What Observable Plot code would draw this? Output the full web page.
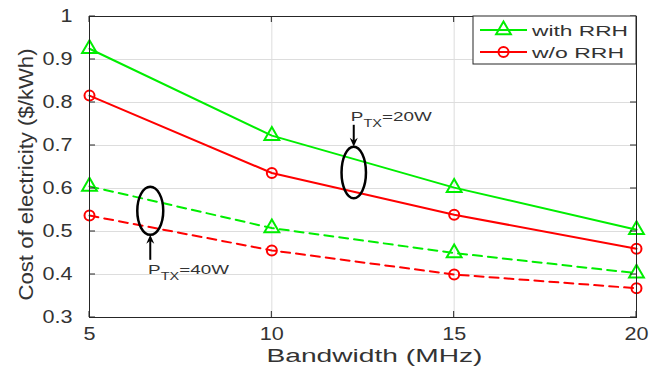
<!DOCTYPE html>
<html><head><meta charset="utf-8">
<script src="https://cdn.jsdelivr.net/npm/d3@7"></script>
<script src="https://cdn.jsdelivr.net/npm/@observablehq/plot@0.6"></script>
<style>
body{margin:0;background:#fff}
#chart{width:651px;height:370px}
</style>
</head><body><div id="chart"></div>
<script>
// ---- data ----
const bandwidth = [5, 10, 15, 20];
const withRRH_20W = [0.925, 0.723, 0.602, 0.504];
const woRRH_20W   = [0.816, 0.636, 0.539, 0.460];
const withRRH_40W = [0.605, 0.508, 0.450, 0.403];
const woRRH_40W   = [0.537, 0.456, 0.400, 0.368];
const xTicks = [5, 10, 15, 20];
const yTicks = [0.3, 0.4, 0.5, 0.6, 0.7, 0.8, 0.9, 1];
const yTickLabels = ["0.3", "0.4", "0.5", "0.6", "0.7", "0.8", "0.9", "1"];
const legendLabels = ["with RRH", "w/o RRH"];
const xLabel = "Bandwidth (MHz)";
const yLabel = "Cost of electricity ($/kWh)";
// annotation anchors in data units
const annoPower = ["20W", "40W"];
const annoEllipseX = [12.26, 6.68];
const annoEllipseY = [0.636, 0.547];
const annoEllipseRx = [0.335, 0.356];
const annoEllipseRy = [0.060, 0.056];
const annoArrowFromY = [0.747, 0.433];
const annoTextX = [12.18, 6.62];
const annoTextY = [0.756, 0.401];

const GREEN = "#00ee00", RED = "#ff0000";
const series = [
  {values: withRRH_20W, color: GREEN, symbol: "triangle", dash: null},
  {values: woRRH_20W, color: RED, symbol: "circle", dash: null},
  {values: withRRH_40W, color: GREEN, symbol: "triangle", dash: "9,6"},
  {values: woRRH_40W, color: RED, symbol: "circle", dash: "9,6"}
];

const marks = [
  Plot.gridX(xTicks, {stroke: "#dddddd", strokeOpacity: 1}),
  Plot.gridY(yTicks, {stroke: "#dddddd", strokeOpacity: 1})
];
for (const s of series) {
  const rows = bandwidth.map((b, i) => ({bw: b, cost: s.values[i]}));
  marks.push(Plot.line(rows, {x: "bw", y: "cost", stroke: s.color, strokeWidth: 2, strokeDasharray: s.dash}));
  marks.push(Plot.dot(rows, {x: "bw", y: "cost", stroke: s.color, fill: "none", strokeWidth: 2,
    symbol: s.symbol, r: s.symbol === "triangle" ? 5.5 : 5}));
}
marks.push(Plot.frame({stroke: "#262626", strokeWidth: 1}));
marks.push(Plot.axisX(xTicks, {tickSize: 0, tickPadding: 10, label: null, fill: "#333", fontSize: 18}));
marks.push(Plot.axisY(yTicks, {tickSize: 0, tickPadding: 17, label: null, fill: "#333", fontSize: 18,
  tickFormat: d => yTickLabels[yTicks.indexOf(d)]}));

const chart = Plot.plot({
  width: 651, height: 370,
  marginLeft: 89, marginRight: 15, marginTop: 16, marginBottom: 53,
  style: {fontFamily: "'Liberation Sans', Arial, sans-serif", fontSize: "18px", color: "#262626", background: "#fff", overflow: "visible"},
  x: {domain: [5, 20], label: null},
  y: {domain: [0.3, 1], label: null},
  marks
});
document.getElementById("chart").appendChild(chart);

const sx = chart.scale("x"), sy = chart.scale("y");
const X = v => sx.apply(v), Y = v => sy.apply(v);
const svg = d3.select(chart);
const [x0, x1] = sx.range, [yb, yt] = sy.range;

// widen tick labels
svg.selectAll("g[aria-label$='tick label'] text").each(function() {
  const t = this.getAttribute("transform");
  if (t) this.setAttribute("transform", t + " scale(1.2,1)");
});

const g = svg.append("g");
// inward ticks on all four sides
for (const v of xTicks) {
  g.append("line").attr("x1", X(v)).attr("x2", X(v)).attr("y1", yb).attr("y2", yb - 6).attr("stroke", "#262626");
  g.append("line").attr("x1", X(v)).attr("x2", X(v)).attr("y1", yt).attr("y2", yt + 6).attr("stroke", "#262626");
}
for (const v of yTicks) {
  g.append("line").attr("y1", Y(v)).attr("y2", Y(v)).attr("x1", x0).attr("x2", x0 + 6).attr("stroke", "#262626");
  g.append("line").attr("y1", Y(v)).attr("y2", Y(v)).attr("x1", x1).attr("x2", x1 - 6).attr("stroke", "#262626");
}

// axis labels
g.append("text").text(xLabel)
  .attr("transform", `translate(${(x0 + x1) / 2 + 12},362)`)
  .attr("text-anchor", "middle").attr("font-size", 18).attr("fill", "#333")
  .attr("textLength", 216).attr("lengthAdjust", "spacingAndGlyphs");
g.append("text").text(yLabel)
  .attr("transform", `translate(33,${(yb + yt) / 2 + 8}) rotate(-90)`)
  .attr("text-anchor", "middle").attr("font-size", 20).attr("fill", "#333")
  .attr("textLength", 252).attr("lengthAdjust", "spacingAndGlyphs");

// annotations
for (let i = 0; i < annoPower.length; i++) {
  const cx = X(annoEllipseX[i]), cy = Y(annoEllipseY[i]);
  const rx = X(annoEllipseX[i] + annoEllipseRx[i]) - cx;
  const ry = cy - Y(annoEllipseY[i] + annoEllipseRy[i]);
  g.append("ellipse").attr("cx", cx).attr("cy", cy).attr("rx", rx).attr("ry", ry)
    .attr("fill", "none").attr("stroke", "#000").attr("stroke-width", 2.5);
  const ax = cx;
  const fromY = Y(annoArrowFromY[i]);
  const tipY = annoArrowFromY[i] > annoEllipseY[i] ? cy - ry : cy + ry;
  const dir = tipY > fromY ? 1 : -1;
  g.append("line").attr("x1", ax).attr("x2", ax).attr("y1", fromY).attr("y2", tipY - dir * 4)
    .attr("stroke", "#000").attr("stroke-width", 2);
  g.append("path").attr("d", `M${ax},${tipY}L${ax - 4},${tipY - dir * 9}L${ax},${tipY - dir * 6}L${ax + 4},${tipY - dir * 9}Z`)
    .attr("fill", "#000");
  const t = g.append("text")
    .attr("transform", `translate(${X(annoTextX[i])},${Y(annoTextY[i])}) scale(1.45,1)`)
    .attr("text-anchor", "start").attr("font-size", 13).attr("fill", "#333");
  t.append("tspan").text("P");
  t.append("tspan").text("TX").attr("font-size", 10).attr("dy", 6);
  t.append("tspan").text("=" + annoPower[i]).attr("dy", -6);
}

// legend
const lg = svg.append("g");
lg.append("rect").attr("x", 473).attr("y", yt).attr("width", x1 - 473).attr("height", 48)
  .attr("fill", "#fff").attr("stroke", "#262626");
const legendItems = [
  {label: legendLabels[0], color: GREEN, sym: d3.symbolTriangle, size: Math.PI * 5.5 * 5.5},
  {label: legendLabels[1], color: RED, sym: d3.symbolCircle, size: Math.PI * 25}
];
const legendW = [96, 92];
legendItems.forEach((it, i) => {
  const yy = yt + 14 + i * 22;
  lg.append("line").attr("x1", 480).attr("x2", 527).attr("y1", yy).attr("y2", yy)
    .attr("stroke", it.color).attr("stroke-width", 2);
  lg.append("path").attr("d", d3.symbol(it.sym, it.size)()).attr("transform", `translate(503.5,${yy})`)
    .attr("fill", "none").attr("stroke", it.color).attr("stroke-width", 2);
  lg.append("text").text(it.label).attr("x", 532).attr("y", yy + 5.5)
    .attr("text-anchor", "start").attr("font-size", 15.5).attr("fill", "#333")
    .attr("textLength", legendW[i]).attr("lengthAdjust", "spacingAndGlyphs");
});
</script>
</body></html>
